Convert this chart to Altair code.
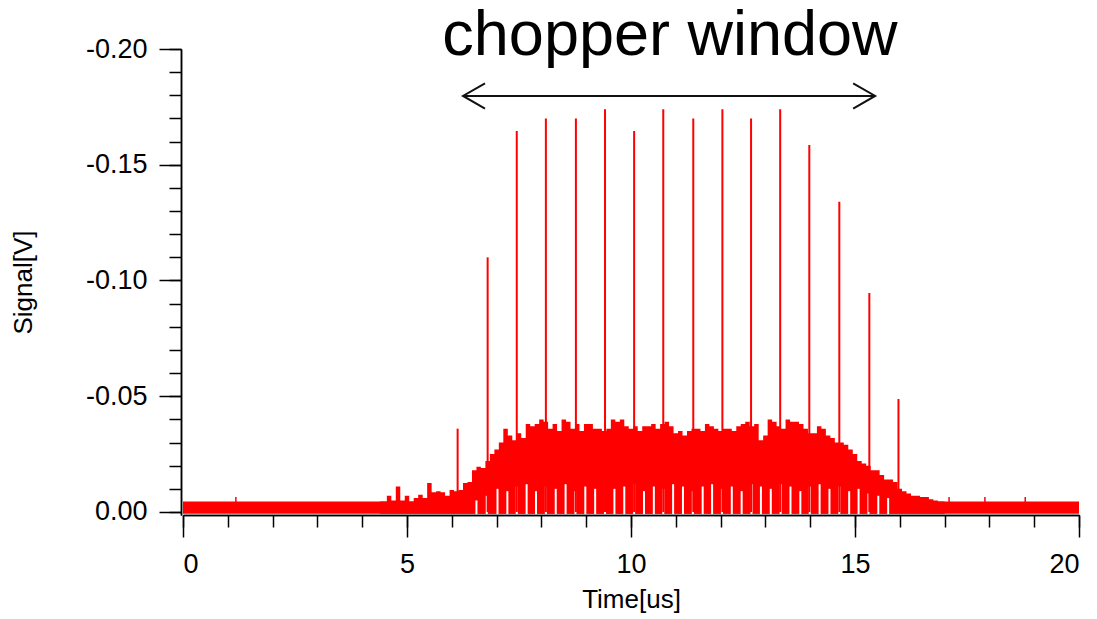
import altair as alt
import pandas as pd

# ---------------- data ----------------
# Baseline noise band (whole record)
base_t = [0.0, 20.0]
base_top = [-0.0045, -0.0045]
base_bot = [0.0008, 0.0008]

# Upper envelope of the dense pulse train (0.1 us steps)
env_t = [4.4, 4.5, 4.6, 4.7, 4.8, 4.9, 5.0, 5.1, 5.2, 5.3, 5.4, 5.5, 5.6, 5.7, 5.8, 5.9,
         6.0, 6.1, 6.2, 6.3, 6.4, 6.5, 6.6, 6.7, 6.8, 6.9, 7.0, 7.1, 7.2, 7.3, 7.4, 7.5,
         7.6, 7.7, 7.8, 7.9, 8.0, 8.1, 8.2, 8.3, 8.4, 8.5, 8.6, 8.7, 8.8, 8.9, 9.0, 9.1,
         9.2, 9.3, 9.4, 9.5, 9.6, 9.7, 9.8, 9.9, 10.0, 10.1, 10.2, 10.3, 10.4, 10.5, 10.6,
         10.7, 10.8, 10.9, 11.0, 11.1, 11.2, 11.3, 11.4, 11.5, 11.6, 11.7, 11.8, 11.9, 12.0,
         12.1, 12.2, 12.3, 12.4, 12.5, 12.6, 12.7, 12.8, 12.9, 13.0, 13.1, 13.2, 13.3, 13.4,
         13.5, 13.6, 13.7, 13.8, 13.9, 14.0, 14.1, 14.2, 14.3, 14.4, 14.5, 14.6, 14.7, 14.8,
         14.9, 15.0, 15.1, 15.2, 15.3, 15.4, 15.5, 15.6, 15.7, 15.8, 15.9, 16.0, 16.1, 16.2,
         16.3, 16.4, 16.5, 16.6, 16.7, 16.8, 16.9, 17.0]
env_top = [-0.0045, -0.0045, -0.007, -0.005, -0.011, -0.005, -0.007, -0.0045, -0.006, -0.0075,
           -0.006, -0.0125, -0.0085, -0.009, -0.0085, -0.007, -0.0095, -0.009, -0.0095, -0.0125,
           -0.013, -0.018, -0.0195, -0.019, -0.022, -0.025, -0.027, -0.030, -0.036, -0.033,
           -0.031, -0.034, -0.032, -0.038, -0.037, -0.038, -0.040, -0.039, -0.036, -0.038,
           -0.035, -0.040, -0.039, -0.036, -0.038, -0.035, -0.038, -0.038, -0.036, -0.036,
           -0.035, -0.036, -0.040, -0.039, -0.040, -0.037, -0.036, -0.037, -0.035, -0.037,
           -0.037, -0.038, -0.036, -0.038, -0.039, -0.037, -0.034, -0.035, -0.033, -0.035,
           -0.036, -0.036, -0.035, -0.038, -0.037, -0.036, -0.035, -0.036, -0.036, -0.035,
           -0.037, -0.038, -0.039, -0.037, -0.038, -0.031, -0.033, -0.040, -0.039, -0.037,
           -0.036, -0.040, -0.039, -0.039, -0.038, -0.036, -0.034, -0.034, -0.037, -0.036,
           -0.033, -0.032, -0.030, -0.030, -0.029, -0.027, -0.025, -0.022, -0.021, -0.020,
           -0.018, -0.018, -0.016, -0.014, -0.014, -0.013, -0.010, -0.009, -0.008, -0.007,
           -0.007, -0.0065, -0.0065, -0.0055, -0.005, -0.0045, -0.0045]
env_bot = [0.0008] * len(env_t)

# Gaps between the bunches (signal drops back to baseline)
gap_t = [6.55, 6.78, 7.02, 7.24, 7.45, 7.67, 7.88, 8.10, 8.32, 8.54, 8.76, 8.98, 9.20,
         9.42, 9.63, 9.85, 10.07, 10.29, 10.51, 10.72, 10.94, 11.16, 11.38, 11.60, 11.81,
         12.03, 12.25, 12.47, 12.69, 12.90, 13.12, 13.34, 13.56, 13.78, 13.99, 14.21, 14.43,
         14.65, 14.87, 15.08, 15.30, 15.52, 15.74]
gap_v = [-0.005, -0.007, -0.010, -0.009, -0.011, -0.012, -0.009, -0.011, -0.010, -0.012,
         -0.009, -0.011, -0.010, -0.012, -0.010, -0.011, -0.012, -0.009, -0.011, -0.010,
         -0.012, -0.011, -0.009, -0.011, -0.012, -0.010, -0.011, -0.009, -0.012, -0.011,
         -0.010, -0.012, -0.011, -0.009, -0.011, -0.012, -0.010, -0.011, -0.009, -0.010,
         -0.008, -0.007, -0.006]

# Chopper spikes
spike_t = [6.13, 6.80, 7.45, 8.10, 8.77, 9.42, 10.07, 10.72, 11.39, 12.04, 12.68, 13.33,
           13.98, 14.65, 15.32, 15.97]
spike_v = [-0.036, -0.110, -0.1646, -0.170, -0.170, -0.174, -0.1646, -0.174, -0.170, -0.174,
           -0.170, -0.174, -0.1585, -0.134, -0.0946, -0.0488]

# Small glitches on the baseline
glitch_t = [1.18, 17.1, 17.9, 18.8]
glitch_v = [-0.0065, -0.0065, -0.0065, -0.0065]

# Annotation
arrow_t = [6.25, 15.45]
arrow_v = [-0.1797, -0.1797]
label_t = [10.87]
label_v = [-0.1975]
label_txt = ["chopper window"]

# Axis ticks
x_major = [0, 5, 10, 15, 20]
x_minor = list(range(0, 21))
y_major = [-0.20, -0.15, -0.10, -0.05, 0.0]
y_minor = [-0.20, -0.19, -0.18, -0.17, -0.16, -0.15, -0.14, -0.13, -0.12, -0.11, -0.10,
           -0.09, -0.08, -0.07, -0.06, -0.05, -0.04, -0.03, -0.02, -0.01, 0.0]

# ---------------- chart ----------------
RED = "#ff0000"
FONT = "Liberation Sans"

xs = alt.Scale(domain=[0, 20], nice=False, zero=False)
ys = alt.Scale(domain=[-0.2, 0.0013], reverse=True, nice=False, zero=False)

common_axis = dict(grid=False, domainColor="black", tickColor="black", domainWidth=1.5,
                   tickWidth=1.5, labelColor="black", titleColor="black",
                   labelFont=FONT, titleFont=FONT, titleFontWeight="normal")

x_major_axis = alt.Axis(values=x_major, format="d", tickSize=22, labelPadding=14,
                        labelFontSize=27, title="Time[us]", titleFontSize=26,
                        titlePadding=9, orient="bottom", **common_axis)
x_minor_axis = alt.Axis(values=x_minor, tickSize=12, labels=False, orient="bottom",
                        **common_axis)
y_major_axis = alt.Axis(values=y_major, tickSize=22, labelPadding=12,
                        labelExpr="replace(format(datum.value, '.2f'), '\u2212', '-')",
                        labelFontSize=27, title="Signal[V]", titleFontSize=26,
                        titlePadding=49, offset=2, orient="left", **common_axis)
y_minor_axis = alt.Axis(values=y_minor, tickSize=12, labels=False, offset=2, orient="left",
                        **common_axis)

base_df = pd.DataFrame({"t": base_t, "top": base_top, "bot": base_bot})
env_df = pd.DataFrame({"t": env_t, "top": env_top, "bot": env_bot})
gap_df = pd.DataFrame({"t": gap_t, "v": gap_v, "b": [0.0009] * len(gap_t)})
spike_df = pd.DataFrame({"t": spike_t, "v": spike_v, "b": [0.0] * len(spike_t)})
glitch_df = pd.DataFrame({"t": glitch_t, "v": glitch_v, "b": [0.0] * len(glitch_t)})
arrow_df = pd.DataFrame({"t": [arrow_t[0]], "t2": [arrow_t[1]], "v": [arrow_v[0]]})
head_df = pd.DataFrame({"t": arrow_t, "v": arrow_v, "side": ["L", "R"]})
label_df = pd.DataFrame({"t": label_t, "v": label_v, "txt": label_txt})

base = alt.Chart(base_df).mark_area(color=RED, opacity=1).encode(
    x=alt.X("t:Q", scale=xs, axis=x_minor_axis, title=None),
    y=alt.Y("top:Q", scale=ys, axis=y_minor_axis, title=None),
    y2="bot:Q",
)

env = alt.Chart(env_df).mark_area(color=RED, opacity=1, interpolate="step").encode(
    x=alt.X("t:Q", scale=xs, axis=x_major_axis),
    y=alt.Y("top:Q", scale=ys, axis=y_major_axis),
    y2="bot:Q",
)

gaps = alt.Chart(gap_df).mark_rule(color="white", strokeWidth=2).encode(
    x=alt.X("t:Q", scale=xs, axis=None),
    y=alt.Y("v:Q", scale=ys, axis=None),
    y2="b:Q",
)

spikes = alt.Chart(spike_df).mark_rule(color=RED, strokeWidth=2).encode(
    x=alt.X("t:Q", scale=xs, axis=None),
    y=alt.Y("v:Q", scale=ys, axis=None),
    y2="b:Q",
)

glitches = alt.Chart(glitch_df).mark_rule(color=RED, strokeWidth=1.5).encode(
    x=alt.X("t:Q", scale=xs, axis=None),
    y=alt.Y("v:Q", scale=ys, axis=None),
    y2="b:Q",
)

arrow_line = alt.Chart(arrow_df).mark_rule(color="#111111", strokeWidth=2).encode(
    x=alt.X("t:Q", scale=xs, axis=None),
    x2="t2:Q",
    y=alt.Y("v:Q", scale=ys, axis=None),
)

head_l = alt.Chart(head_df).transform_filter(alt.datum.side == "L").mark_point(
    shape="M 1 -0.57 L 0 0 L 1 0.57", size=1936, filled=False, stroke="#111111",
    strokeWidth=2, opacity=1
).encode(
    x=alt.X("t:Q", scale=xs, axis=None),
    y=alt.Y("v:Q", scale=ys, axis=None),
)

head_r = alt.Chart(head_df).transform_filter(alt.datum.side == "R").mark_point(
    shape="M -1 -0.57 L 0 0 L -1 0.57", size=1936, filled=False, stroke="#111111",
    strokeWidth=2, opacity=1
).encode(
    x=alt.X("t:Q", scale=xs, axis=None),
    y=alt.Y("v:Q", scale=ys, axis=None),
)

label = alt.Chart(label_df).mark_text(
    font=FONT, fontSize=63, color="black", align="center", baseline="alphabetic"
).encode(
    x=alt.X("t:Q", scale=xs, axis=None),
    y=alt.Y("v:Q", scale=ys, axis=None),
    text="txt:N",
)

chart = alt.layer(
    base, env, gaps, spikes, glitches, arrow_line, head_l, head_r, label
).resolve_axis(x="independent", y="independent").properties(
    width=896, height=466,
    autosize=alt.AutoSizeParams(type="none"),
    padding={"left": 183, "top": 49, "right": 18, "bottom": 104},
    background="white",
).configure_view(stroke=None)

chart.save("out.html", embed_options={"renderer": "svg", "actions": False})
